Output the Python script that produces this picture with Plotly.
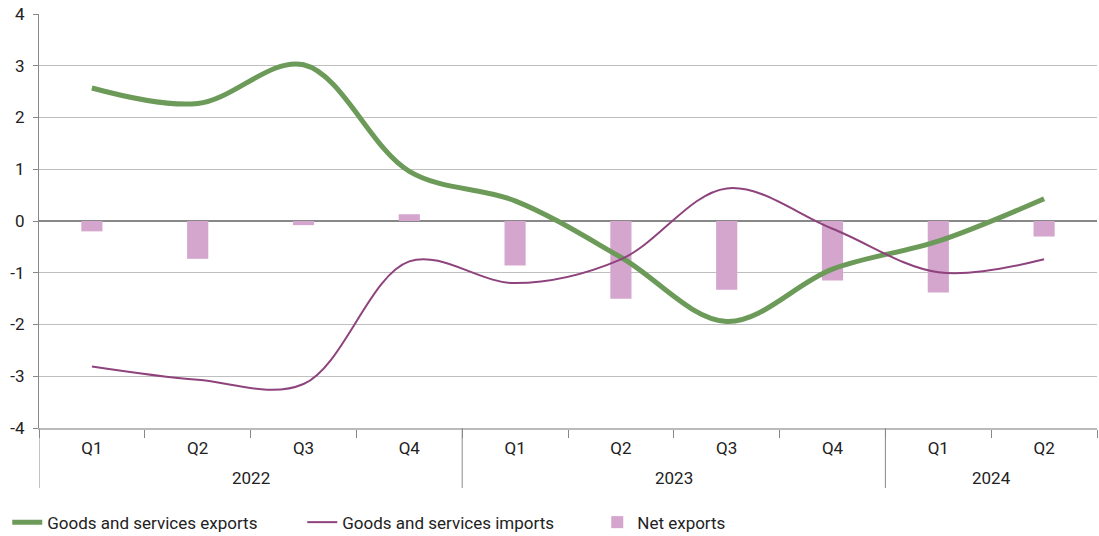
import plotly.graph_objects as go

years = ["2022"] * 4 + ["2023"] * 4 + ["2024"] * 2
quarters = ["Q1", "Q2", "Q3", "Q4", "Q1", "Q2", "Q3", "Q4", "Q1", "Q2"]

exports = [2.57, 2.27, 3.02, 0.96, 0.39, -0.70, -1.94, -0.93, -0.39, 0.43]
imports = [-2.81, -3.07, -3.15, -0.78, -1.20, -0.74, 0.63, -0.15, -0.99, -0.74]
net_exports = [-0.20, -0.73, -0.08, 0.13, -0.86, -1.50, -1.33, -1.15, -1.38, -0.30]

y_ticks = [-4, -3, -2, -1, 0, 1, 2, 3, 4]
y_ticktext = [str(v) for v in y_ticks]  # plain hyphen for negatives

FONT = "Roboto, sans-serif"
TEXT = "#222"

# one unique category per quarter, labelled with the quarter only
keys = [f"{y} {q}" for y, q in zip(years, quarters)]

fig = go.Figure()
fig.add_trace(go.Scatter(
    x=keys, y=exports, name="Goods and services exports", mode="lines",
    line=dict(color="#6b9a59", width=5, shape="spline", smoothing=1.0),
))
fig.add_trace(go.Scatter(
    x=keys, y=imports, name="Goods and services imports", mode="lines",
    line=dict(color="#8e437d", width=2, shape="spline", smoothing=1.0),
))
fig.add_trace(go.Bar(
    x=keys, y=net_exports, name="Net exports",
    marker=dict(color="#d4a5cd", line=dict(width=0)), width=0.2,
))

# year group labels and the dividers between year groups
groups = []
for i, y in enumerate(years):
    if not groups or groups[-1][0] != y:
        groups.append([y, i, i])
    else:
        groups[-1][2] = i

annotations = []
shapes = []
for y, first, last in groups:
    annotations.append(dict(
        x=(first + last) / 2, xref="x", y=0, yref="paper", yshift=-50,
        text=y, showarrow=False, xanchor="center", yanchor="middle",
        font=dict(family=FONT, size=17, color=TEXT),
    ))
    shapes.append(dict(
        type="line", xref="x", yref="paper", x0=first - 0.5, x1=first - 0.5,
        y0=0, y1=-0.145, line=dict(color="#888", width=1),
    ))

fig.update_layout(
    width=1099, height=536,
    margin=dict(l=39, r=2, t=14, b=108, autoexpand=False),
    paper_bgcolor="white", plot_bgcolor="white",
    font=dict(family=FONT, size=17, color=TEXT),
    showlegend=True,
    legend=dict(orientation="h", x=-0.03, xanchor="left", y=-0.185, yanchor="top",
                traceorder="normal", font=dict(size=17), itemwidth=30,
                entrywidth=250),
    annotations=annotations,
    shapes=shapes,
    xaxis=dict(
        type="category", showgrid=False, showline=True,
        linecolor="#bbbbbb", linewidth=1.5,
        tickvals=keys, ticktext=quarters,
        ticks="outside", tickson="boundaries", ticklen=8, tickcolor="#888",
        ticklabelstandoff=4,
        tickfont=dict(size=17, color=TEXT),
        range=[-0.5, len(keys) - 0.5],
    ),
    yaxis=dict(
        range=[-4, 4], tickvals=y_ticks, ticktext=y_ticktext,
        showgrid=True, gridcolor="#bfbfbf", gridwidth=1,
        zeroline=True, zerolinecolor="#888", zerolinewidth=1.5,
        showline=True, linecolor="#888", linewidth=1,
        ticks="outside", ticklen=5, tickcolor="#888",
        ticklabelstandoff=5,
        tickfont=dict(size=17, color=TEXT),
    ),
)

fig.write_html("out.html")
